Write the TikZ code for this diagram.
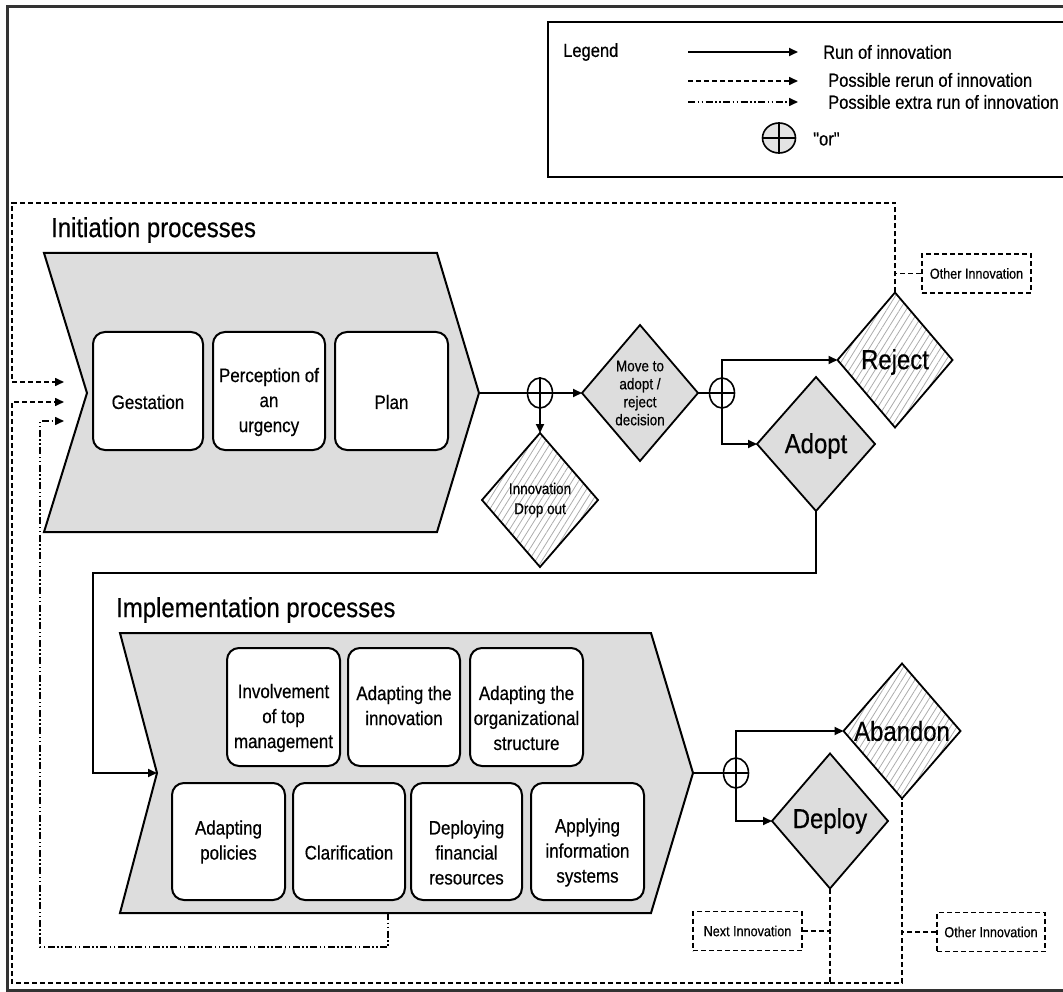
\documentclass[tikz,border=0pt]{standalone}
\usepackage{fontspec}
\setmainfont[FakeStretch=0.87, FakeBold=0.5]{Liberation Sans}
\usetikzlibrary{arrows.meta,shapes.geometric,patterns.meta}

\begin{document}
\begin{tikzpicture}[x=1pt,y=-1pt,
  flow/.style={line width=1.9pt},
  rerun/.style={line width=1.6pt, dash pattern=on 5pt off 3pt},
  extra/.style={line width=1.6pt, dash pattern=on 7pt off 2.5pt on 1.5pt off 2.5pt on 1.5pt off 2.5pt},
  tip/.style={-{Triangle[length=9pt,width=8pt]}},
  chevron/.style={draw, line width=2pt, fill=gray!27, line join=miter},
  stepbox/.style={draw, line width=2pt, fill=white, rounded corners=12pt, inner sep=0pt},
  steptxt/.style={align=center, inner sep=0pt, yshift=-11pt, font=\fontsize{19.5}{25}\selectfont},
  decision/.style={diamond, draw, line width=1.8pt, inner sep=0pt, outer sep=0pt,
    minimum width=116pt, minimum height=136pt},
  solidgray/.style={decision, fill=gray!27},
  hatched/.style={decision, pattern={Lines[angle=58,distance=5.5pt,line width=0.8pt]}, pattern color=gray!65},
  bigtxt/.style={font=\fontsize{27.5}{30}\selectfont},
  smalltxt/.style={align=center, font=\fontsize{15.5}{18}\selectfont},
  xor/.style={ellipse, draw, line width=1.6pt, inner sep=0pt, minimum width=25pt, minimum height=30pt},
  notebox/.style={draw, rerun, inner sep=0pt, minimum width=109pt, minimum height=39pt,
    font=\fontsize{14.5}{16}\selectfont},
  legendtxt/.style={anchor=west, inner sep=0pt, font=\fontsize{19}{22}\selectfont},
]
\useasboundingbox (0,0) rectangle (1063,992);

% frame
\draw[line width=3pt, black!80] (1070,7) -- (7,7) -- (7,990) -- (1070,990);

% legend
\draw[line width=2pt] (548,22) rectangle (1075,177);
\node[legendtxt] (legtitle) at (563,52) {Legend};
\coordinate (la1) at (688,52);  \coordinate (lb1) at (798,52);
\coordinate (la2) at (688,81);  \coordinate (lb2) at (798,81);
\coordinate (la3) at (688,102); \coordinate (lb3) at (798,102);
\draw[flow,tip] (la1) -- (lb1);
\draw[rerun,tip] (la2) -- (lb2);
\draw[extra,tip] (la3) -- (lb3);
\node[legendtxt] (lt1) at (823,52) {Run of innovation};
\node[legendtxt] (lt2) at (828,80) {Possible rerun of innovation};
\node[legendtxt] (lt3) at (828,102) {Possible extra run of innovation};
\node[xor, fill=gray!22, minimum width=33pt, minimum height=30pt] (lor) at (779,138) {};
\draw[line width=1.6pt] (lor.north) -- (lor.south) (lor.west) -- (lor.east);
\node[legendtxt] (ltor) at (813,139) {\addfontfeatures{Ligatures=TeXOff}"or"};

% initiation chevron
\node[bigtxt, anchor=west, inner sep=0pt] (inittitle) at (51,230) {Initiation processes};
\draw[chevron] (44,253) -- (437,253) -- (479,393) -- (437,532) -- (44,532) -- (87,393) -- cycle;
\coordinate (initTip) at (479,393);
\coordinate (inA) at (64,382);
\coordinate (inB) at (64,402);
\coordinate (inC) at (64,421);
\node[stepbox, minimum width=110pt, minimum height=118pt,
  label={[steptxt]center:Gestation}] (gest) at (148,391) {};
\node[stepbox, minimum width=112pt, minimum height=118pt,
  label={[steptxt]center:Perception of\\an\\urgency}] (perc) at (269,391) {};
\node[stepbox, minimum width=113pt, minimum height=118pt,
  label={[steptxt]center:Plan}] (plan) at (391.5,391) {};

% decisions after initiation
\node[solidgray, label={[smalltxt]center:Move to\\adopt /\\reject\\decision}] (move) at (640,393) {};
\node[hatched, minimum height=134pt, label={[smalltxt, font=\fontsize{15.5}{20}\selectfont]center:Innovation\\Drop out}] (drop) at (540,500) {};
\node[hatched, minimum width=115pt, minimum height=135pt, label={[bigtxt, yshift=-2pt]center:Reject}] (reject) at (895,360) {};
\node[solidgray, minimum width=118pt, minimum height=134pt, label={[bigtxt, yshift=-2pt]center:Adopt}] (adopt) at (816,444) {};
\node[notebox] (othertop) at (976.5,273.5) {Other Innovation};

\node[xor] (or1) at (540,393) {};
\node[xor] (or2) at (722,393) {};
\draw[flow,tip] (initTip) -- (move.west);
\draw[flow,tip] (or1.north) -- (drop.north);
\draw[flow] (move.east) -- (or2.east);
\draw[flow,tip] (or2.center) |- (reject.west);
\draw[flow,tip] (or2.center) |- (adopt.west);

% implementation chevron
\node[bigtxt, anchor=west, inner sep=0pt] (impltitle) at (116,610) {Implementation processes};
\draw[chevron] (120,633) -- (651,633) -- (693,773) -- (651,913) -- (120,913) -- (157,773) -- cycle;
\coordinate (implTip) at (693,773);
\coordinate (implNotch) at (157,773);
\coordinate (implExit) at (388,913);
\node[stepbox, minimum width=113pt, minimum height=118pt,
  label={[steptxt]center:Involvement\\of top\\management}] (involve) at (283.5,707) {};
\node[stepbox, minimum width=112pt, minimum height=118pt,
  label={[steptxt]center:Adapting the\\innovation\\\mbox{}}] (adinno) at (404,707) {};
\node[stepbox, minimum width=113pt, minimum height=118pt,
  label={[steptxt]center:Adapting the\\organizational\\structure}] (adorg) at (526.5,707) {};
\node[stepbox, minimum width=113pt, minimum height=117pt,
  label={[steptxt]center:Adapting\\policies\\\mbox{}}] (adpol) at (228.5,841.5) {};
\node[stepbox, minimum width=112pt, minimum height=117pt,
  label={[steptxt]center:Clarification}] (clar) at (349,841.5) {};
\node[stepbox, minimum width=111pt, minimum height=117pt,
  label={[steptxt]center:Deploying\\financial\\resources}] (deplfin) at (466.5,841.5) {};
\node[stepbox, minimum width=113pt, minimum height=117pt,
  label={[steptxt]center:Applying\\information\\systems}] (apply) at (587.5,841.5) {};

% decisions after implementation
\node[hatched, minimum width=117pt, minimum height=135pt, label={[bigtxt]center:Abandon}] (abandon) at (902,731) {};
\node[solidgray, minimum height=135pt, label={[bigtxt]center:Deploy}] (deploy) at (830,821) {};
\node[notebox] (nextinno) at (747.5,931) {Next Innovation};
\node[notebox, minimum width=108pt] (otherbot) at (991,932) {Other Innovation};
\node[xor] (or3) at (736,773) {};
\draw[flow] (implTip) -- (or3.east);
\draw[flow,tip] (or3.center) |- (abandon.west);
\draw[flow,tip] (or3.center) |- (deploy.west);

% adoption leads into implementation
\coordinate (loopL) at (93,573);
\draw[flow,tip] (adopt.south) |- (loopL) |- (implNotch);

% reruns after a rejection
\coordinate (topL) at (12,203);
\draw[rerun,tip] (reject.north) |- (topL) |- (inA);
\draw[rerun] (othertop.west) -- (othertop.west -| reject.north);

% reruns after deployment or abandonment
\coordinate (botL) at (12,983);
\coordinate (botM) at (830,983);
\draw[rerun,tip] (deploy.south) |- (botL) |- (inB);
\draw[rerun] (botM) -| (abandon.south);
\draw[rerun] (nextinno.east) -- (nextinno.east -| deploy.south);
\draw[rerun] (otherbot.west) -- (otherbot.west -| abandon.south);

% extra run from implementation
\coordinate (extraL) at (40,947);
\draw[extra,tip] (implExit) |- (extraL) |- (inC);

\end{tikzpicture}
\end{document}
